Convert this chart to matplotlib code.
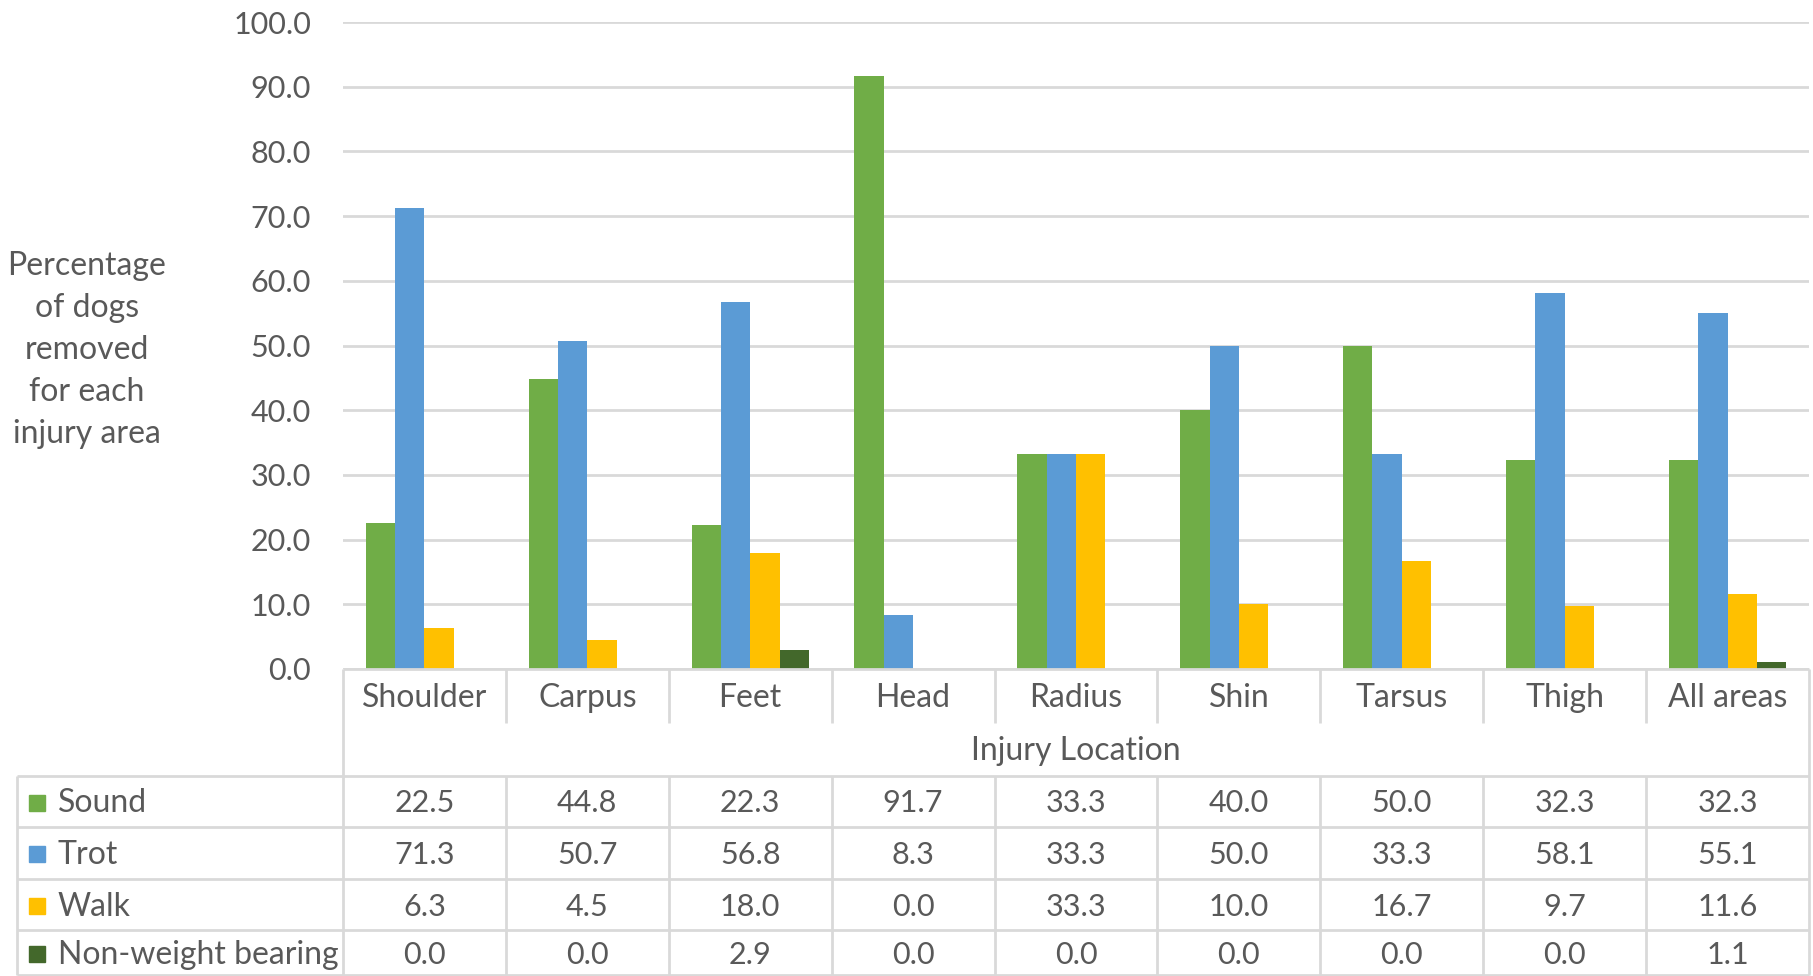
import numpy as np
import matplotlib.pyplot as plt

locations = ["Shoulder", "Carpus", "Feet", "Head", "Radius", "Shin", "Tarsus", "Thigh", "All areas"]
series_names = ["Sound", "Trot", "Walk", "Non-weight bearing"]
sound = [22.5, 44.8, 22.3, 91.7, 33.3, 40.0, 50.0, 32.3, 32.3]
trot = [71.3, 50.7, 56.8, 8.3, 33.3, 50.0, 33.3, 58.1, 55.1]
walk = [6.3, 4.5, 18.0, 0.0, 33.3, 10.0, 16.7, 9.7, 11.6]
nonweight = [0.0, 0.0, 2.9, 0.0, 0.0, 0.0, 0.0, 0.0, 1.1]
yticks = np.arange(0, 101, 10)

colors = ["#70AD47", "#5B9BD5", "#FFC000", "#43682B"]
txt = "#595959"
grid = "#D9D9D9"
plt.rcParams['font.family'] = ['Lato', 'DejaVu Sans']
fs = 23      # words
fn = 22      # numbers

W, H = 1813, 976
left, right, top, zero = 343, 1809, 22, 669

fig = plt.figure(figsize=(W/100, H/100), dpi=100)
ax = fig.add_axes([left/W, 1-zero/H, (right-left)/W, (zero-top)/H])

all_vals = [sound, trot, walk, nonweight]
bw = 0.18
x = np.arange(len(locations))
for k, vals in enumerate(all_vals):
    ax.bar(x + (k-1.5)*bw, vals, width=bw, color=colors[k], zorder=3)

ax.set_xlim(-0.5, len(locations)-0.5)
ax.set_ylim(0, 100)
ax.set_yticks(yticks)
ax.set_yticklabels([f"{v:.1f}" for v in yticks], fontsize=fn, color=txt)
ax.tick_params(axis='y', length=0, pad=23)
ax.set_xticks([])
ax.grid(axis='y', color=grid, lw=2, zorder=0)
for s in ax.spines.values():
    s.set_visible(False)

# overlay for data table, in pixel coordinates
ov = fig.add_axes([0, 0, 1, 1], zorder=5)
ov.set_xlim(0, W)
ov.set_ylim(H, 0)
ov.axis('off')
ov.patch.set_alpha(0)

lc = dict(color=grid, lw=2, solid_capstyle='butt')
cw = (right-left)/len(locations)
colx = [left + cw*j for j in range(len(locations)+1)]
cat_bot, loc_bot = 723, 776
row_y = [776, 827, 879, 930, 975]
tab_left = 17

ov.plot([left, right], [zero, zero], **lc)
ov.plot([left, left], [zero, row_y[-1]], **lc)
ov.plot([right, right], [zero, row_y[-1]], **lc)
for cx in colx[1:-1]:
    ov.plot([cx, cx], [zero, cat_bot], **lc)
    ov.plot([cx, cx], [loc_bot, row_y[-1]], **lc)
for ry in row_y:
    ov.plot([tab_left, right], [ry, ry], **lc)
ov.plot([tab_left, tab_left], [row_y[0], row_y[-1]], **lc)

for j, name in enumerate(locations):
    ov.text((colx[j]+colx[j+1])/2, (zero+cat_bot)/2 + 2, name, ha='center', va='center', fontsize=fs, color=txt)
ov.text((left+right)/2, (cat_bot+loc_bot)/2 + 2, "Injury Location", ha='center', va='center', fontsize=fs, color=txt)

for r, (name, vals) in enumerate(zip(series_names, all_vals)):
    yc = (row_y[r]+row_y[r+1])/2 + 2
    ov.add_patch(plt.Rectangle((29, yc-9), 16, 16, color=colors[r]))
    ov.text(58, yc, name, ha='left', va='center', fontsize=fs, color=txt)
    for j, v in enumerate(vals):
        ov.text((colx[j]+colx[j+1])/2, yc, f"{v:.1f}", ha='center', va='center', fontsize=fn, color=txt)

ov.text(87, 350, "Percentage\nof dogs\nremoved\nfor each\ninjury area", ha='center', va='center',
        multialignment='center', fontsize=fs, color=txt, linespacing=1.5)

fig.savefig("out.png", dpi=100)
